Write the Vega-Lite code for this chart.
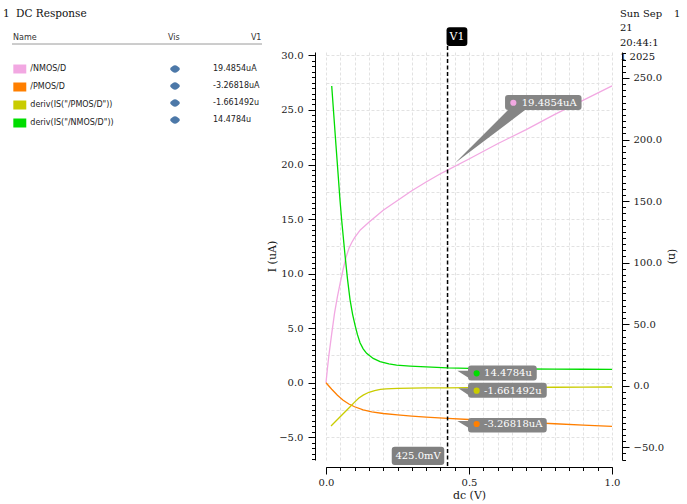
{
 "$schema": "https://vega.github.io/schema/vega-lite/v6.json",
 "width": 286,
 "height": 408,
 "autosize": {"type": "none"},
 "padding": {"left": 326, "top": 52, "right": 75, "bottom": 44},
 "background": "#ffffff",
 "config": {
  "view": {"stroke": null},
  "font": "DejaVu Serif",
  "axis": {
   "domainColor": "#000000", "tickColor": "#000000", "labelColor": "#1a1a1a", "titleColor": "#1a1a1a",
   "labelFont": "DejaVu Serif", "titleFont": "DejaVu Serif", "labelFontSize": 10, "titleFontSize": 11,
   "titleFontWeight": "normal", "gridColor": "#e2e2e2", "gridDash": [3, 2], "gridWidth": 1,
   "domainWidth": 1, "tickWidth": 1, "labelOverlap": false, "labelFlush": false
  }
 },
 "datasets": {
  "current": [
   {"series": "/NMOS/D", "x": 0, "y": 0}, {"series": "/NMOS/D", "x": 0.005, "y": 1.3}, {"series": "/NMOS/D", "x": 0.01, "y": 2.5},
   {"series": "/NMOS/D", "x": 0.015, "y": 3.5}, {"series": "/NMOS/D", "x": 0.02, "y": 4.5}, {"series": "/NMOS/D", "x": 0.03, "y": 6.4},
   {"series": "/NMOS/D", "x": 0.04, "y": 7.9}, {"series": "/NMOS/D", "x": 0.05, "y": 9.2}, {"series": "/NMOS/D", "x": 0.06, "y": 10.4},
   {"series": "/NMOS/D", "x": 0.07, "y": 11.5}, {"series": "/NMOS/D", "x": 0.08, "y": 12.3}, {"series": "/NMOS/D", "x": 0.09, "y": 12.85},
   {"series": "/NMOS/D", "x": 0.1, "y": 13.3}, {"series": "/NMOS/D", "x": 0.12, "y": 14.0}, {"series": "/NMOS/D", "x": 0.15, "y": 14.7},
   {"series": "/NMOS/D", "x": 0.2, "y": 15.8}, {"series": "/NMOS/D", "x": 0.25, "y": 16.7}, {"series": "/NMOS/D", "x": 0.3, "y": 17.6},
   {"series": "/NMOS/D", "x": 0.35, "y": 18.4}, {"series": "/NMOS/D", "x": 0.4, "y": 19.15}, {"series": "/NMOS/D", "x": 0.425, "y": 19.4854},
   {"series": "/NMOS/D", "x": 0.5, "y": 20.5}, {"series": "/NMOS/D", "x": 0.6, "y": 21.9}, {"series": "/NMOS/D", "x": 0.7, "y": 23.2},
   {"series": "/NMOS/D", "x": 0.8, "y": 24.6}, {"series": "/NMOS/D", "x": 0.9, "y": 25.9}, {"series": "/NMOS/D", "x": 1, "y": 27.2},
   {"series": "/PMOS/D", "x": 0, "y": 0}, {"series": "/PMOS/D", "x": 0.02, "y": -0.6}, {"series": "/PMOS/D", "x": 0.04, "y": -1.15},
   {"series": "/PMOS/D", "x": 0.06, "y": -1.6}, {"series": "/PMOS/D", "x": 0.08, "y": -1.95}, {"series": "/PMOS/D", "x": 0.1, "y": -2.2},
   {"series": "/PMOS/D", "x": 0.13, "y": -2.48}, {"series": "/PMOS/D", "x": 0.16, "y": -2.66}, {"series": "/PMOS/D", "x": 0.2, "y": -2.82},
   {"series": "/PMOS/D", "x": 0.25, "y": -2.95}, {"series": "/PMOS/D", "x": 0.3, "y": -3.06}, {"series": "/PMOS/D", "x": 0.35, "y": -3.15},
   {"series": "/PMOS/D", "x": 0.425, "y": -3.26818}, {"series": "/PMOS/D", "x": 0.5, "y": -3.37}, {"series": "/PMOS/D", "x": 0.6, "y": -3.5},
   {"series": "/PMOS/D", "x": 0.7, "y": -3.63}, {"series": "/PMOS/D", "x": 0.8, "y": -3.76}, {"series": "/PMOS/D", "x": 0.9, "y": -3.88},
   {"series": "/PMOS/D", "x": 1, "y": -4.0}
  ],
  "deriv": [
   {"series": "deriv(IS(\"/PMOS/D\"))", "x": 0.0175, "y": -32.7}, {"series": "deriv(IS(\"/PMOS/D\"))", "x": 0.04, "y": -27.4},
   {"series": "deriv(IS(\"/PMOS/D\"))", "x": 0.06, "y": -22.7}, {"series": "deriv(IS(\"/PMOS/D\"))", "x": 0.08, "y": -18},
   {"series": "deriv(IS(\"/PMOS/D\"))", "x": 0.1, "y": -13.3}, {"series": "deriv(IS(\"/PMOS/D\"))", "x": 0.115, "y": -10},
   {"series": "deriv(IS(\"/PMOS/D\"))", "x": 0.13, "y": -7.6}, {"series": "deriv(IS(\"/PMOS/D\"))", "x": 0.15, "y": -5.3},
   {"series": "deriv(IS(\"/PMOS/D\"))", "x": 0.17, "y": -3.9}, {"series": "deriv(IS(\"/PMOS/D\"))", "x": 0.19, "y": -3.0},
   {"series": "deriv(IS(\"/PMOS/D\"))", "x": 0.21, "y": -2.5}, {"series": "deriv(IS(\"/PMOS/D\"))", "x": 0.25, "y": -2.05},
   {"series": "deriv(IS(\"/PMOS/D\"))", "x": 0.3, "y": -1.85}, {"series": "deriv(IS(\"/PMOS/D\"))", "x": 0.35, "y": -1.76},
   {"series": "deriv(IS(\"/PMOS/D\"))", "x": 0.425, "y": -1.661492}, {"series": "deriv(IS(\"/PMOS/D\"))", "x": 0.5, "y": -1.55},
   {"series": "deriv(IS(\"/PMOS/D\"))", "x": 0.6, "y": -1.42}, {"series": "deriv(IS(\"/PMOS/D\"))", "x": 0.7, "y": -1.3},
   {"series": "deriv(IS(\"/PMOS/D\"))", "x": 0.8, "y": -1.2}, {"series": "deriv(IS(\"/PMOS/D\"))", "x": 0.9, "y": -1.1},
   {"series": "deriv(IS(\"/PMOS/D\"))", "x": 1, "y": -1.0},
   {"series": "deriv(IS(\"/NMOS/D\"))", "x": 0.02, "y": 243.5}, {"series": "deriv(IS(\"/NMOS/D\"))", "x": 0.035, "y": 195},
   {"series": "deriv(IS(\"/NMOS/D\"))", "x": 0.049, "y": 150.7}, {"series": "deriv(IS(\"/NMOS/D\"))", "x": 0.055, "y": 134},
   {"series": "deriv(IS(\"/NMOS/D\"))", "x": 0.0665, "y": 106}, {"series": "deriv(IS(\"/NMOS/D\"))", "x": 0.075, "y": 87},
   {"series": "deriv(IS(\"/NMOS/D\"))", "x": 0.084, "y": 70}, {"series": "deriv(IS(\"/NMOS/D\"))", "x": 0.093, "y": 58},
   {"series": "deriv(IS(\"/NMOS/D\"))", "x": 0.1015, "y": 49.3}, {"series": "deriv(IS(\"/NMOS/D\"))", "x": 0.11, "y": 41.5},
   {"series": "deriv(IS(\"/NMOS/D\"))", "x": 0.119, "y": 35}, {"series": "deriv(IS(\"/NMOS/D\"))", "x": 0.13, "y": 30},
   {"series": "deriv(IS(\"/NMOS/D\"))", "x": 0.142, "y": 26.3}, {"series": "deriv(IS(\"/NMOS/D\"))", "x": 0.165, "y": 22.2},
   {"series": "deriv(IS(\"/NMOS/D\"))", "x": 0.189, "y": 19.6}, {"series": "deriv(IS(\"/NMOS/D\"))", "x": 0.22, "y": 17.8},
   {"series": "deriv(IS(\"/NMOS/D\"))", "x": 0.247, "y": 16.8}, {"series": "deriv(IS(\"/NMOS/D\"))", "x": 0.294, "y": 16.0},
   {"series": "deriv(IS(\"/NMOS/D\"))", "x": 0.35, "y": 15.3}, {"series": "deriv(IS(\"/NMOS/D\"))", "x": 0.425, "y": 14.4784},
   {"series": "deriv(IS(\"/NMOS/D\"))", "x": 0.5, "y": 14.1}, {"series": "deriv(IS(\"/NMOS/D\"))", "x": 0.6, "y": 13.8},
   {"series": "deriv(IS(\"/NMOS/D\"))", "x": 0.7, "y": 13.6}, {"series": "deriv(IS(\"/NMOS/D\"))", "x": 0.8, "y": 13.5},
   {"series": "deriv(IS(\"/NMOS/D\"))", "x": 0.9, "y": 13.4}, {"series": "deriv(IS(\"/NMOS/D\"))", "x": 1, "y": 13.3}
  ],
  "cursor": [
   {"series": "/NMOS/D", "x": 0.425, "y": 19.4854, "label": "19.4854uA"},
   {"series": "/PMOS/D", "x": 0.425, "y": -3.26818, "label": "-3.26818uA"},
   {"series": "deriv(IS(\"/PMOS/D\"))", "x": 0.425, "y": -1.661492, "label": "-1.661492u"},
   {"series": "deriv(IS(\"/NMOS/D\"))", "x": 0.425, "y": 14.4784, "label": "14.4784u"}
  ],
  "marker": [{"name": "V1", "x": 0.425, "label": "425.0mV"}]
 },
 "layer": [
  {
   "layer": [
    {
     "data": {"name": "current"},
     "mark": {"type": "line", "strokeWidth": 1.3},
     "encoding": {
      "x": {"field": "x", "type": "quantitative", "scale": {"domain": [0, 1], "nice": false, "zero": false},
       "axis": {"orient": "bottom", "offset": 7, "title": "dc (V)", "titlePadding": 2, "labelPadding": 3, "values": [0, 0.5, 1], "format": ".1f",
        "tickSize": 7, "ticks": true, "domain": true, "grid": false}},
      "y": {"field": "y", "type": "quantitative", "scale": {"domain": [-7.08, 30.31], "nice": false, "zero": false},
       "axis": {"orient": "left", "offset": 11, "title": "I (uA)", "titlePadding": 1, "labelPadding": 5, "values": [-5, 0, 5, 10, 15, 20, 25, 30], "format": ".1f",
        "tickSize": 7, "ticks": true, "domain": true, "grid": false}},
      "color": {"field": "series", "type": "nominal",
       "scale": {"domain": ["/NMOS/D", "/PMOS/D", "deriv(IS(\"/PMOS/D\"))", "deriv(IS(\"/NMOS/D\"))"], "range": ["#f2a8e2", "#ff7f00", "#c9cc00", "#00dd00"]},
       "legend": {"title": "Name", "orient": "none", "legendX": -313, "legendY": -18, "padding": 0,
        "titleFont": "DejaVu Sans", "titleFontSize": 8, "titleFontWeight": "normal", "titleColor": "#333333", "titlePadding": 22.5,
        "labelFont": "DejaVu Sans", "labelFontSize": 8, "labelColor": "#222222", "labelOffset": 6, "labelLimit": 250,
        "symbolType": "M-1.44,-1H1.44V1H-1.44Z", "symbolSize": 81, "symbolStrokeWidth": 0, "symbolOffset": 2.3, "rowPadding": 9,
        "encode": {"symbols": {"update": {"fill": {"scale": "color", "field": "value"}, "stroke": {"value": "transparent"}, "opacity": {"value": 1}, "shape": {"value": "M-1.44,-1H1.44V1H-1.44Z"}}}}}}
     }
    },
    {
     "data": {"name": "cursor"},
     "mark": {"type": "point", "size": 0, "filled": true},
     "encoding": {
      "x": {"field": "x", "type": "quantitative",
       "axis": {"orient": "bottom", "offset": 7, "title": null, "labels": false, "domain": false, "ticks": true, "tickSize": 3.5, "grid": true,
        "values": [0, 0.05, 0.1, 0.15, 0.2, 0.25, 0.3, 0.35, 0.4, 0.45, 0.5, 0.55, 0.6, 0.65, 0.7, 0.75, 0.8, 0.85, 0.9, 0.95, 1]}},
      "y": {"field": "y", "type": "quantitative",
       "axis": {"orient": "left", "offset": 11, "title": null, "labels": false, "domain": false, "ticks": true, "tickSize": 3.5, "grid": false,
        "values": [-7, -6.5, -6, -5.5, -5, -4.5, -4, -3.5, -3, -2.5, -2, -1.5, -1, -0.5, 0, 0.5, 1, 1.5, 2, 2.5, 3, 3.5, 4, 4.5, 5, 5.5, 6, 6.5, 7, 7.5, 8, 8.5, 9, 9.5, 10, 10.5, 11, 11.5, 12, 12.5, 13, 13.5, 14, 14.5, 15, 15.5, 16, 16.5, 17, 17.5, 18, 18.5, 19, 19.5, 20, 20.5, 21, 21.5, 22, 22.5, 23, 23.5, 24, 24.5, 25, 25.5, 26, 26.5, 27, 27.5, 28, 28.5, 29, 29.5, 30]}},
      "opacity": {"field": "label", "type": "ordinal",
       "scale": {"domain": ["19.4854uA", "-3.26818uA", "-1.661492u", "14.4784u"], "range": [1, 1]},
       "legend": {"title": "Vis\u00a0\u00a0\u00a0\u00a0\u00a0\u00a0\u00a0\u00a0\u00a0\u00a0\u00a0\u00a0\u00a0\u00a0\u00a0\u00a0\u00a0\u00a0\u00a0\u00a0\u00a0\u00a0\u00a0\u00a0\u00a0\u00a0\u00a0\u00a0V1",
        "orient": "none", "legendX": -158, "legendY": -18, "padding": 0,
        "titleFont": "DejaVu Sans", "titleFontSize": 8, "titleFontWeight": "normal", "titleColor": "#333333", "titlePadding": 22, "titleLimit": 300,
        "labelFont": "DejaVu Sans", "labelFontSize": 8, "labelColor": "#222222", "labelOffset": 33, "labelLimit": 250,
        "symbolType": "M-1,0Q0,-1.5,1,0Q0,1.5,-1,0Z", "symbolSize": 100, "symbolStrokeWidth": 0, "symbolOffset": 2, "rowPadding": 8,
        "encode": {"symbols": {"update": {"fill": {"value": "#5f7da6"}, "stroke": {"value": "transparent"}, "opacity": {"value": 1}, "shape": {"value": "M-1,0Q0,-1.5,1,0Q0,1.5,-1,0Z"}, "size": {"value": 100}}}}}}
     }
    },
    {
     "data": {"name": "cursor"},
     "mark": {"type": "point", "size": 0, "filled": true, "opacity": 0},
     "encoding": {
      "x": {"field": "x", "type": "quantitative", "axis": null},
      "y": {"field": "y", "type": "quantitative",
       "axis": {"orient": "left", "offset": 11, "title": null, "labels": false, "domain": false, "ticks": false, "grid": true,
        "values": [-5, -2.5, 0, 2.5, 5, 7.5, 10, 12.5, 15, 17.5, 20, 22.5, 25, 27.5, 30]}}
     }
    },
    {
     "data": {"name": "marker"},
     "mark": {"type": "rule", "color": "#9a9a9a", "strokeWidth": 1, "xOffset": -314, "x2Offset": -64, "yOffset": -8},
     "encoding": {"x": {"datum": 0, "axis": null}, "x2": {"datum": 0}, "y": {"datum": 30.31, "axis": null}}
    },
    {
     "data": {"name": "marker"},
     "mark": {"type": "text", "text": "1", "align": "left", "baseline": "middle", "dx": -323, "dy": -38, "font": "DejaVu Serif", "fontSize": 10.5, "color": "#111111"},
     "encoding": {"x": {"datum": 0, "axis": null}, "y": {"datum": 30.31, "axis": null}}
    },
    {
     "data": {"name": "marker"},
     "mark": {"type": "text", "text": "DC Response", "align": "left", "baseline": "middle", "dx": -310, "dy": -38, "font": "DejaVu Serif", "fontSize": 10.5, "color": "#111111"},
     "encoding": {"x": {"datum": 0, "axis": null}, "y": {"datum": 30.31, "axis": null}}
    },
    {
     "data": {"name": "marker"},
     "mark": {"type": "text", "text": ["Sun Sep", "21", "20:44:1", "1 2025"], "lineHeight": 14.3, "align": "left", "baseline": "top", "dx": 8, "dy": -43, "font": "DejaVu Serif", "fontSize": 10, "color": "#111111"},
     "encoding": {"x": {"datum": 1, "axis": null}, "y": {"datum": 30.31, "axis": null}}
    },
    {
     "data": {"name": "marker"},
     "mark": {"type": "text", "text": "1", "align": "left", "baseline": "top", "dx": 62, "dy": -43, "font": "DejaVu Serif", "fontSize": 10, "color": "#111111"},
     "encoding": {"x": {"datum": 1, "axis": null}, "y": {"datum": 30.31, "axis": null}}
    },
    {
     "data": {"name": "marker"},
     "mark": {"type": "rule", "color": "#000000", "strokeWidth": 1.5, "strokeDash": [4, 2.5], "yOffset": -6, "y2Offset": 6.7},
     "encoding": {"x": {"field": "x", "type": "quantitative", "axis": null}, "y": {"datum": 30.31, "axis": null}, "y2": {"datum": -7.08}}
    },
    {
     "data": {"name": "marker"},
     "mark": {"type": "point", "filled": true, "opacity": 1, "size": 4, "strokeWidth": 0, "color": "#000000",
      "shape": "M2,-24.7H16.8Q19.8,-24.7,19.8,-21.7V-9Q19.8,-6,16.8,-6H2Q-1,-6,-1,-9V-21.7Q-1,-24.7,2,-24.7Z"},
     "encoding": {"x": {"field": "x", "type": "quantitative", "axis": null}, "y": {"datum": 30.31, "axis": null}}
    },
    {
     "data": {"name": "marker"},
     "mark": {"type": "text", "align": "center", "baseline": "middle", "dx": 9.4, "dy": -15.3, "font": "DejaVu Serif", "fontSize": 11, "color": "#ffffff"},
     "encoding": {"x": {"field": "x", "type": "quantitative", "axis": null}, "y": {"datum": 30.31, "axis": null}, "text": {"field": "name"}}
    },
    {
     "data": {"name": "marker"},
     "mark": {"type": "point", "filled": true, "opacity": 1, "size": 4, "strokeWidth": 0, "color": "#808080",
      "shape": "M-52.8,-13.3H-6.3Q-3.3,-13.3,-3.3,-10.3V2Q-3.3,5,-6.3,5H-52.8Q-55.8,5,-55.8,2V-10.3Q-55.8,-13.3,-52.8,-13.3Z"},
     "encoding": {"x": {"field": "x", "type": "quantitative", "axis": null}, "y": {"datum": -7.08, "axis": null}}
    },
    {
     "data": {"name": "marker"},
     "mark": {"type": "text", "align": "center", "baseline": "middle", "dx": -29.5, "dy": -4.2, "font": "DejaVu Serif", "fontSize": 10, "color": "#ffffff"},
     "encoding": {"x": {"field": "x", "type": "quantitative", "axis": null}, "y": {"datum": -7.08, "axis": null}, "text": {"field": "label"}}
    },
    {
     "data": {"name": "cursor"},
     "transform": [{"filter": "datum.series === '/NMOS/D'"}],
     "mark": {"type": "point", "filled": true, "opacity": 1, "size": 4, "strokeWidth": 0, "color": "#858585",
      "shape": "M60.5,-75H131Q134,-75,134,-72V-63Q134,-60,131,-60H77.5L7.5,-7L60.5,-60Q57.5,-60,57.5,-63V-72Q57.5,-75,60.5,-75Z"},
     "encoding": {"x": {"field": "x", "type": "quantitative", "axis": null}, "y": {"field": "y", "type": "quantitative", "axis": null}}
    },
    {
     "data": {"name": "cursor"},
     "transform": [{"filter": "datum.series === '/NMOS/D'"}],
     "mark": {"type": "point", "filled": true, "opacity": 1, "size": 38, "strokeWidth": 0, "shape": "circle", "xOffset": 65.8, "yOffset": -67.4},
     "encoding": {"x": {"field": "x", "type": "quantitative", "axis": null}, "y": {"field": "y", "type": "quantitative", "axis": null},
      "color": {"field": "series", "type": "nominal", "scale": {"domain": ["/NMOS/D", "/PMOS/D", "deriv(IS(\"/PMOS/D\"))", "deriv(IS(\"/NMOS/D\"))"], "range": ["#f2a8e2", "#ff7f00", "#c9cc00", "#00dd00"]}}}
    },
    {
     "data": {"name": "cursor"},
     "transform": [{"filter": "datum.series === '/NMOS/D'"}],
     "mark": {"type": "text", "align": "left", "baseline": "middle", "dx": 74.2, "dy": -67.5, "font": "DejaVu Serif", "fontSize": 10, "color": "#ffffff"},
     "encoding": {"x": {"field": "x", "type": "quantitative", "axis": null}, "y": {"field": "y", "type": "quantitative", "axis": null}, "text": {"field": "label"}}
    },
    {
     "data": {"name": "cursor"},
     "transform": [{"filter": "datum.series === '/PMOS/D'"}],
     "mark": {"type": "point", "filled": true, "opacity": 1, "size": 4, "strokeWidth": 0, "color": "#858585",
      "shape": "M23.5,-0.5H96.2Q99.2,-0.5,99.2,2.5V11Q99.2,14,96.2,14H23.5Q20.5,14,20.5,11V9L9.8,2.6H20.5V2.5Q20.5,-0.5,23.5,-0.5Z"},
     "encoding": {"x": {"field": "x", "type": "quantitative", "axis": null}, "y": {"field": "y", "type": "quantitative", "axis": null}}
    },
    {
     "data": {"name": "cursor"},
     "transform": [{"filter": "datum.series === '/PMOS/D'"}],
     "mark": {"type": "point", "filled": true, "opacity": 1, "size": 38, "strokeWidth": 0, "shape": "circle", "xOffset": 29.1, "yOffset": 5.6},
     "encoding": {"x": {"field": "x", "type": "quantitative", "axis": null}, "y": {"field": "y", "type": "quantitative", "axis": null},
      "color": {"field": "series", "type": "nominal", "scale": {"domain": ["/NMOS/D", "/PMOS/D", "deriv(IS(\"/PMOS/D\"))", "deriv(IS(\"/NMOS/D\"))"], "range": ["#f2a8e2", "#ff7f00", "#c9cc00", "#00dd00"]}}}
    },
    {
     "data": {"name": "cursor"},
     "transform": [{"filter": "datum.series === '/PMOS/D'"}],
     "mark": {"type": "text", "align": "left", "baseline": "middle", "dx": 36.5, "dy": 5.6, "font": "DejaVu Serif", "fontSize": 10, "color": "#ffffff"},
     "encoding": {"x": {"field": "x", "type": "quantitative", "axis": null}, "y": {"field": "y", "type": "quantitative", "axis": null}, "text": {"field": "label"}}
    }
   ],
   "resolve": {"axis": {"x": "independent", "y": "independent"}}
  },
  {
   "layer": [
    {
     "data": {"name": "deriv"},
     "mark": {"type": "line", "strokeWidth": 1.3},
     "encoding": {
      "x": {"field": "x", "type": "quantitative", "axis": null},
      "y": {"field": "y", "type": "quantitative", "scale": {"domain": [-60.3, 271.1], "nice": false, "zero": false},
       "axis": {"orient": "right", "offset": 10, "title": "(n)", "titlePadding": 3, "labelPadding": 4, "grid": false, "ticks": true, "domain": true,
        "values": [-50, 0, 50, 100, 150, 200, 250], "format": ".1f", "tickSize": 7}},
      "color": {"field": "series", "type": "nominal", "scale": {"domain": ["/NMOS/D", "/PMOS/D", "deriv(IS(\"/PMOS/D\"))", "deriv(IS(\"/NMOS/D\"))"], "range": ["#f2a8e2", "#ff7f00", "#c9cc00", "#00dd00"]}}
     }
    },
    {
     "data": {"name": "cursor"},
     "mark": {"type": "point", "size": 0, "filled": true, "opacity": 0},
     "encoding": {
      "x": {"field": "x", "type": "quantitative", "axis": null},
      "y": {"field": "y", "type": "quantitative",
       "axis": {"orient": "right", "offset": 10, "title": null, "labels": false, "domain": false, "ticks": true, "tickSize": 3.5, "grid": false,
        "values": [-60, -55, -50, -45, -40, -35, -30, -25, -20, -15, -10, -5, 0, 5, 10, 15, 20, 25, 30, 35, 40, 45, 50, 55, 60, 65, 70, 75, 80, 85, 90, 95, 100, 105, 110, 115, 120, 125, 130, 135, 140, 145, 150, 155, 160, 165, 170, 175, 180, 185, 190, 195, 200, 205, 210, 215, 220, 225, 230, 235, 240, 245, 250, 255, 260, 265, 270]}}
     }
    },
    {
     "data": {"name": "cursor"},
     "transform": [{"filter": "datum.series === 'deriv(IS(\"/NMOS/D\"))'"}],
     "mark": {"type": "point", "filled": true, "opacity": 1, "size": 4, "strokeWidth": 0, "color": "#858585",
      "shape": "M23.5,-2.4H86.2Q89.2,-2.4,89.2,0.6V9.6Q89.2,12.6,86.2,12.6H23.5Q20.5,12.6,20.5,9.6V9.5L9.8,2.8H20.5V0.6Q20.5,-2.4,23.5,-2.4Z"},
     "encoding": {"x": {"field": "x", "type": "quantitative", "axis": null}, "y": {"field": "y", "type": "quantitative", "axis": null}}
    },
    {
     "data": {"name": "cursor"},
     "transform": [{"filter": "datum.series === 'deriv(IS(\"/NMOS/D\"))'"}],
     "mark": {"type": "point", "filled": true, "opacity": 1, "size": 38, "strokeWidth": 0, "shape": "circle", "xOffset": 29.1, "yOffset": 5.4},
     "encoding": {"x": {"field": "x", "type": "quantitative", "axis": null}, "y": {"field": "y", "type": "quantitative", "axis": null},
      "color": {"field": "series", "type": "nominal", "scale": {"domain": ["/NMOS/D", "/PMOS/D", "deriv(IS(\"/PMOS/D\"))", "deriv(IS(\"/NMOS/D\"))"], "range": ["#f2a8e2", "#ff7f00", "#c9cc00", "#00dd00"]}}}
    },
    {
     "data": {"name": "cursor"},
     "transform": [{"filter": "datum.series === 'deriv(IS(\"/NMOS/D\"))'"}],
     "mark": {"type": "text", "align": "left", "baseline": "middle", "dx": 36.5, "dy": 5.4, "font": "DejaVu Serif", "fontSize": 10, "color": "#ffffff"},
     "encoding": {"x": {"field": "x", "type": "quantitative", "axis": null}, "y": {"field": "y", "type": "quantitative", "axis": null}, "text": {"field": "label"}}
    },
    {
     "data": {"name": "cursor"},
     "transform": [{"filter": "datum.series === 'deriv(IS(\"/PMOS/D\"))'"}],
     "mark": {"type": "point", "filled": true, "opacity": 1, "size": 4, "strokeWidth": 0, "color": "#858585",
      "shape": "M23.5,-5H96.2Q99.2,-5,99.2,-2V7Q99.2,10,96.2,10H23.5Q20.5,10,20.5,7L10.8,0.5H20.5V-2Q20.5,-5,23.5,-5Z"},
     "encoding": {"x": {"field": "x", "type": "quantitative", "axis": null}, "y": {"field": "y", "type": "quantitative", "axis": null}}
    },
    {
     "data": {"name": "cursor"},
     "transform": [{"filter": "datum.series === 'deriv(IS(\"/PMOS/D\"))'"}],
     "mark": {"type": "point", "filled": true, "opacity": 1, "size": 38, "strokeWidth": 0, "shape": "circle", "xOffset": 29.1, "yOffset": 2.9},
     "encoding": {"x": {"field": "x", "type": "quantitative", "axis": null}, "y": {"field": "y", "type": "quantitative", "axis": null},
      "color": {"field": "series", "type": "nominal", "scale": {"domain": ["/NMOS/D", "/PMOS/D", "deriv(IS(\"/PMOS/D\"))", "deriv(IS(\"/NMOS/D\"))"], "range": ["#f2a8e2", "#ff7f00", "#c9cc00", "#00dd00"]}}}
    },
    {
     "data": {"name": "cursor"},
     "transform": [{"filter": "datum.series === 'deriv(IS(\"/PMOS/D\"))'"}],
     "mark": {"type": "text", "align": "left", "baseline": "middle", "dx": 36.5, "dy": 2.9, "font": "DejaVu Serif", "fontSize": 10, "color": "#ffffff"},
     "encoding": {"x": {"field": "x", "type": "quantitative", "axis": null}, "y": {"field": "y", "type": "quantitative", "axis": null}, "text": {"field": "label"}}
    }
   ],
   "resolve": {"axis": {"y": "independent"}}
  }
 ],
 "resolve": {"scale": {"y": "independent"}}
}
